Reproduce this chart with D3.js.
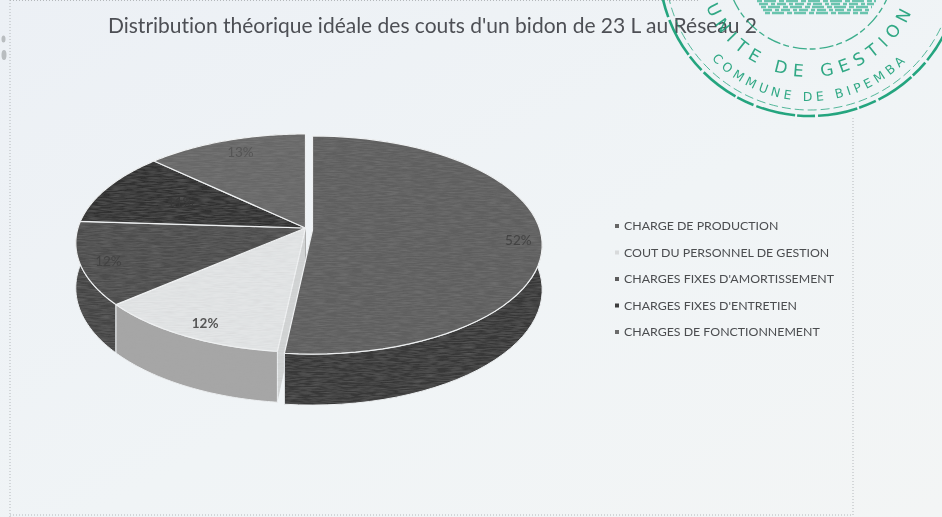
<!DOCTYPE html>
<html>
<head>
<meta charset="utf-8">
<script src="https://cdn.jsdelivr.net/npm/d3@7"></script>
<style>
  html, body { margin: 0; padding: 0; background: #eff3f6; }
  svg { display: block; }
</style>
</head>
<body>
<svg id="chart-svg" width="942" height="517"></svg>
<script>
const titleText = "Distribution théorique idéale des couts d'un bidon de 23 L au Réseau 2";
const categories = [
    "CHARGE DE PRODUCTION",
    "COUT DU PERSONNEL DE GESTION",
    "CHARGES FIXES D'AMORTISSEMENT",
    "CHARGES FIXES D'ENTRETIEN",
    "CHARGES DE FONCTIONNEMENT"
];
// printed labels are rounded, the slices read a little off the round figures
const values = [51.7, 12.0, 12.3, 11, 13];

const topColors = ["#5f5f5f", "#e3e5e6", "#4d4d4d", "#313131", "#686868"];
const sideColors = ["#393939", "#a6a6a6", "#454545", "#2a2a2a", "#444444"];
const legendColors = ["#666666", "#d8dadb", "#5c5c5c", "#3e3e3e", "#6c6c6c"];
const labelColors = ["#434343", "#565656", "#424242", "#383838", "#555555"];

// pie geometry
const cx = 305.5, cy = 228;
const radiusX = 227.5, radiusY = 107, tilt = 0.1376, depth = 44;
const explodeX = [7, 0, 0, 0, 0];
const explodeY = [2, 0, 0, 0, 0];
const labelNudge = [[0, 6], [-4, 10], [-2, 3], [0, 0], [5, 1]];
const labelRadius = [0.9, 0.82, 0.87, 0.62, 0.86];

const svg = d3.select("#chart-svg");
const defs = svg.append("defs");

const paper = defs.append("linearGradient").attr("id", "paper")
    .attr("x1", 0).attr("y1", 0).attr("x2", 1).attr("y2", 1);
paper.append("stop").attr("offset", 0).attr("stop-color", "#ecf0f5");
paper.append("stop").attr("offset", 0.55).attr("stop-color", "#f0f4f6");
paper.append("stop").attr("offset", 1).attr("stop-color", "#f3f5f5");

const soft = defs.append("filter").attr("id", "soft");
soft.append("feGaussianBlur").attr("stdDeviation", 0.45);
const softer = defs.append("filter").attr("id", "softer");
softer.append("feGaussianBlur").attr("stdDeviation", 0.7);

// scan grain on the pie, faint horizontal lines
const grain = defs.append("filter").attr("id", "grain")
    .attr("x", 0).attr("y", 0).attr("width", 1).attr("height", 1);
grain.append("feTurbulence").attr("type", "fractalNoise")
    .attr("baseFrequency", "0.08 0.8").attr("numOctaves", 2).attr("seed", 4).attr("result", "n");
grain.append("feColorMatrix").attr("in", "n").attr("type", "matrix")
    .attr("values", "0 0 0 0 0.4  0 0 0 0 0.4  0 0 0 0 0.4  0.3 0 0 0 -0.1").attr("result", "g");
grain.append("feComposite").attr("in", "g").attr("in2", "SourceAlpha").attr("operator", "in").attr("result", "gc");
grain.append("feGaussianBlur").attr("in", "SourceGraphic").attr("stdDeviation", 0.5).attr("result", "b");
const grainMerge = grain.append("feMerge");
grainMerge.append("feMergeNode").attr("in", "b");
grainMerge.append("feMergeNode").attr("in", "gc");

svg.append("rect").attr("width", 942).attr("height", 517).attr("fill", "url(#paper)");

// dotted page frame and punch marks of the scan
const frame = svg.append("g").attr("fill", "none").attr("stroke", "#b4b8bb")
    .attr("stroke-width", 1).attr("stroke-dasharray", "1 2");
frame.append("line").attr("x1", 10).attr("y1", 0).attr("x2", 10).attr("y2", 517);
frame.append("line").attr("x1", 853).attr("y1", 118).attr("x2", 853).attr("y2", 517);
frame.append("line").attr("x1", 10).attr("y1", 515).attr("x2", 853).attr("y2", 515);
frame.append("line").attr("x1", 10).attr("y1", 0.5).attr("x2", 700).attr("y2", 0.5);
const marks = svg.append("g").attr("fill", "#b9bdc0").attr("filter", "url(#softer)");
marks.append("ellipse").attr("cx", 3.5).attr("cy", 39).attr("rx", 2).attr("ry", 3.5);
marks.append("ellipse").attr("cx", 4).attr("cy", 55).attr("rx", 2.5).attr("ry", 5);

// perspective projection of the tilted disc, angle clockwise from the top
function project(angle, r, i, drop) {
    const u = Math.sin(angle) * r;
    const v = Math.cos(angle) * r;
    const w = 1 + tilt * v;
    return [
        cx + explodeX[i] + radiusX * u / w,
        cy + explodeY[i] - radiusY * v / w + (drop ? depth / w : 0)
    ];
}

const pie = d3.pie().sort(null).value(d => d);
const arcs = pie(values);
const line = d3.line();

function rim(d, i, drop) {
    return d3.range(0, 61).map(k => {
        const a = d.startAngle + (d.endAngle - d.startAngle) * k / 60;
        return project(a, 1, i, drop);
    });
}

const pieGroup = svg.append("g").attr("filter", "url(#grain)");

// cut faces and outer walls first, then the top faces over them
const order = [4, 3, 0, 2, 1];
order.forEach(i => {
    const d = arcs[i];
    [d.startAngle, d.endAngle].forEach(a => {
        pieGroup.append("path")
            .attr("d", line([project(a, 0, i, false), project(a, 1, i, false),
                project(a, 1, i, true), project(a, 0, i, true)]) + "Z")
            .attr("fill", i === 1 ? "#d3d5d6" : sideColors[i]);
    });
});
order.forEach(i => {
    const d = arcs[i];
    pieGroup.append("path")
        .attr("d", line(rim(d, i, false).concat(rim(d, i, true).reverse())) + "Z")
        .attr("fill", sideColors[i])
        .attr("stroke", "#eef1f3").attr("stroke-width", 1);
});
arcs.forEach((d, i) => {
    pieGroup.append("path")
        .attr("d", line([project(d.startAngle, 0, i, false)].concat(rim(d, i, false))) + "Z")
        .attr("fill", topColors[i])
        .attr("stroke", "#f1f3f4").attr("stroke-width", 1.2)
        .attr("stroke-linejoin", "round");
});

// data labels
arcs.forEach((d, i) => {
    const p = project((d.startAngle + d.endAngle) / 2, labelRadius[i], i, false);
    svg.append("text")
        .attr("x", p[0] + labelNudge[i][0])
        .attr("y", p[1] + labelNudge[i][1] + 4)
        .attr("text-anchor", "middle")
        .attr("font-family", "Lato, sans-serif")
        .attr("font-size", 13.5)
        .attr("font-weight", i === 1 ? 700 : 400)
        .attr("fill", labelColors[i])
        .attr("filter", "url(#soft)")
        .text(Math.round(d.data) + "%");
});

// title
svg.append("text")
    .attr("x", 108).attr("y", 33)
    .attr("font-family", "Lato, sans-serif")
    .attr("font-size", 21)
    .attr("fill", "#4d4f54")
    .attr("textLength", 649)
    .style("font-variant-ligatures", "none")
    .attr("filter", "url(#soft)")
    .text(titleText);

// legend
const legendY = d3.scalePoint().domain(categories).range([226, 332]);
const legend = svg.append("g").attr("filter", "url(#soft)");
categories.forEach((c, i) => {
    legend.append("rect")
        .attr("x", 615).attr("y", legendY(c) - 2)
        .attr("width", 4).attr("height", 4)
        .attr("fill", legendColors[i]);
    legend.append("text")
        .attr("x", 624).attr("y", legendY(c) + 4)
        .attr("font-family", "Lato, sans-serif")
        .attr("font-size", 12.35)
        .attr("fill", "#4b4d50")
        .text(c);
});

// green stamp
const stampX = 810, stampY = -35;
const stamp = svg.append("g").attr("filter", "url(#soft)");
const green = "#129c72";
function ring(r, width, dash, opacity) {
    stamp.append("circle")
        .attr("cx", stampX).attr("cy", stampY).attr("r", r)
        .attr("fill", "none").attr("stroke", green)
        .attr("stroke-width", width).attr("stroke-dasharray", dash)
        .attr("opacity", opacity);
}
ring(151, 2.6, "40 3 18 2", 0.9);
ring(145, 1, "9 4", 0.7);
ring(84, 1.3, "14 4 6 3", 0.8);
// worn centre picture of the stamp
const blobRows = d3.range(0, 5);
blobRows.forEach(k => {
    stamp.append("line")
        .attr("x1", 757 + k * 2).attr("x2", 876 - k * 2)
        .attr("y1", k * 3 + 1).attr("y2", k * 3 + 1)
        .attr("stroke", "#3cb596").attr("stroke-width", 2.4)
        .attr("stroke-dasharray", k % 2 ? "9 3 4 2" : "5 2 12 3")
        .attr("opacity", 0.75);
});

function bottomArc(id, r) {
    defs.append("path").attr("id", id)
        .attr("d", `M${stampX - r},${stampY}A${r},${r} 0 0 0 ${stampX + r},${stampY}`);
}
bottomArc("stamp-inner", 112);
bottomArc("stamp-outer", 136);
function stampText(id, text, size, spacing, opacity) {
    stamp.append("text")
        .attr("font-family", "'DejaVu Sans', sans-serif")
        .attr("font-size", size).attr("fill", green)
        .attr("letter-spacing", spacing).attr("text-anchor", "middle")
        .attr("opacity", opacity)
        .append("textPath").attr("href", "#" + id).attr("startOffset", "50%")
        .text(text);
}
stampText("stamp-inner", "UNITE DE GESTION", 17, 6.5, 0.85);
stampText("stamp-outer", "COMMUNE DE BIPEMBA", 12.5, 4, 0.85);
</script>
</body>
</html>
